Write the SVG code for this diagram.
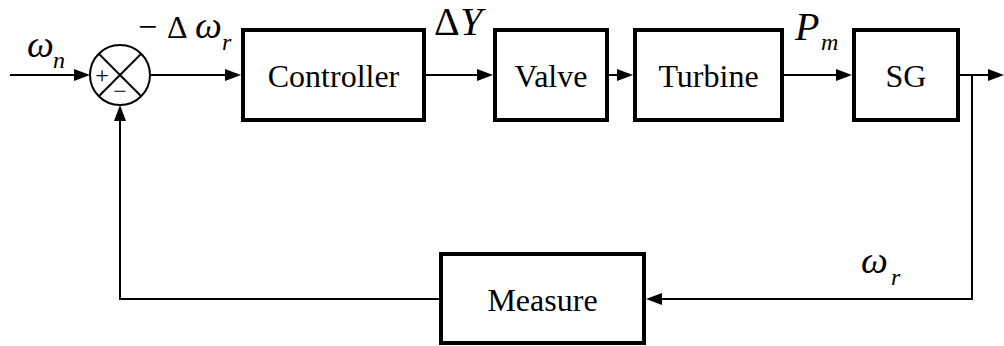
<svg xmlns="http://www.w3.org/2000/svg" width="1004" height="346" viewBox="0 0 1004 346">
<style>
.box{fill:#fff;stroke:#000;stroke-width:4}
.ln{fill:none;stroke:#000;stroke-width:2}
.ah{fill:#000;stroke:none}
.t{font-size:32px;text-anchor:middle;fill:#000}
svg g text{font-family:'Liberation Serif','Times New Roman',serif !important}
</style>
<g id="connectors">
<line class="ln" x1="10" y1="75" x2="76" y2="75"/>
<polygon class="ah" points="74,69 90,75 74,81"/>
<line class="ln" x1="150" y1="75" x2="227" y2="75"/>
<polygon class="ah" points="225,69 241,75 225,81"/>
<line class="ln" x1="424" y1="75" x2="479" y2="75"/>
<polygon class="ah" points="477,69 493,75 477,81"/>
<line class="ln" x1="607" y1="75" x2="619" y2="75"/>
<polygon class="ah" points="617,69 633,75 617,81"/>
<line class="ln" x1="782" y1="75" x2="838" y2="75"/>
<polygon class="ah" points="836,69 852,75 836,81"/>
<line class="ln" x1="958" y1="75" x2="990" y2="75"/>
<polygon class="ah" points="988,69 1004,75 988,81"/>
<polyline class="ln" points="972,75 972,299 660,299"/>
<polygon class="ah" points="662,293 646,299 662,305"/>
<polyline class="ln" points="441,299 120,299 120,119"/>
<polygon class="ah" points="114,121 120,105 126,121"/>
</g>
<g id="sum">
<circle cx="120" cy="75" r="30" fill="#fff" stroke="#000" stroke-width="2"/>
<line class="ln" x1="98.8" y1="53.8" x2="141.2" y2="96.2"/>
<line class="ln" x1="141.2" y1="53.8" x2="98.8" y2="96.2"/>
<text style="font-family:'Liberation Serif',serif !important" x="102" y="83" font-size="24" text-anchor="middle" fill="#000">+</text>
<text style="font-family:'Liberation Serif',serif !important" x="120" y="99" font-size="24" text-anchor="middle" fill="#000">&#8722;</text>
</g>
<g id="controller">
<rect class="box" x="243" y="30" width="181" height="90"/>
<text class="t" style="font-family:'Liberation Serif',serif !important" x="333.5" y="87">Controller</text>
</g>
<g id="valve">
<rect class="box" x="495" y="30" width="112" height="90"/>
<text class="t" style="font-family:'Liberation Serif',serif !important" x="551" y="87">Valve</text>
</g>
<g id="turbine">
<rect class="box" x="635" y="30" width="147" height="90"/>
<text class="t" style="font-family:'Liberation Serif',serif !important" x="708.5" y="87">Turbine</text>
</g>
<g id="sg">
<rect class="box" x="854" y="30" width="104" height="90"/>
<text class="t" style="font-family:'Liberation Serif',serif !important" x="906" y="87">SG</text>
</g>
<g id="measure">
<rect class="box" x="441" y="254" width="203" height="89"/>
<text class="t" style="font-family:'Liberation Serif',serif !important" x="542.5" y="311">Measure</text>
</g>
<g id="labels">
<text style="font-family:'Liberation Serif',serif !important" font-style="italic" fill="#000" x="27" y="57" font-size="38">&#969;</text>
<text style="font-family:'Liberation Serif',serif !important" font-style="italic" fill="#000" x="53" y="68" font-size="24">n</text>
<text style="font-family:'Liberation Serif',serif !important" fill="#000" x="138" y="38" font-size="34">&#8722;</text>
<text style="font-family:'Liberation Serif',serif !important" fill="#000" x="167" y="38" font-size="32">&#916;</text>
<text style="font-family:'Liberation Serif',serif !important" font-style="italic" fill="#000" x="195" y="38" font-size="38">&#969;</text>
<text style="font-family:'Liberation Serif',serif !important" font-style="italic" fill="#000" x="222" y="50" font-size="24">r</text>
<text style="font-family:'Liberation Serif',serif !important" fill="#000" x="434" y="35" font-size="40">&#916;</text>
<text style="font-family:'Liberation Serif',serif !important" font-style="italic" fill="#000" x="460" y="35" font-size="40">Y</text>
<text style="font-family:'Liberation Serif',serif !important" font-style="italic" fill="#000" x="795" y="40" font-size="40">P</text>
<text style="font-family:'Liberation Serif',serif !important" font-style="italic" fill="#000" x="821" y="50" font-size="24">m</text>
<text style="font-family:'Liberation Serif',serif !important" font-style="italic" fill="#000" x="861" y="273" font-size="38">&#969;</text>
<text style="font-family:'Liberation Serif',serif !important" font-style="italic" fill="#000" x="891" y="285" font-size="24">r</text>
</g>
</svg>
